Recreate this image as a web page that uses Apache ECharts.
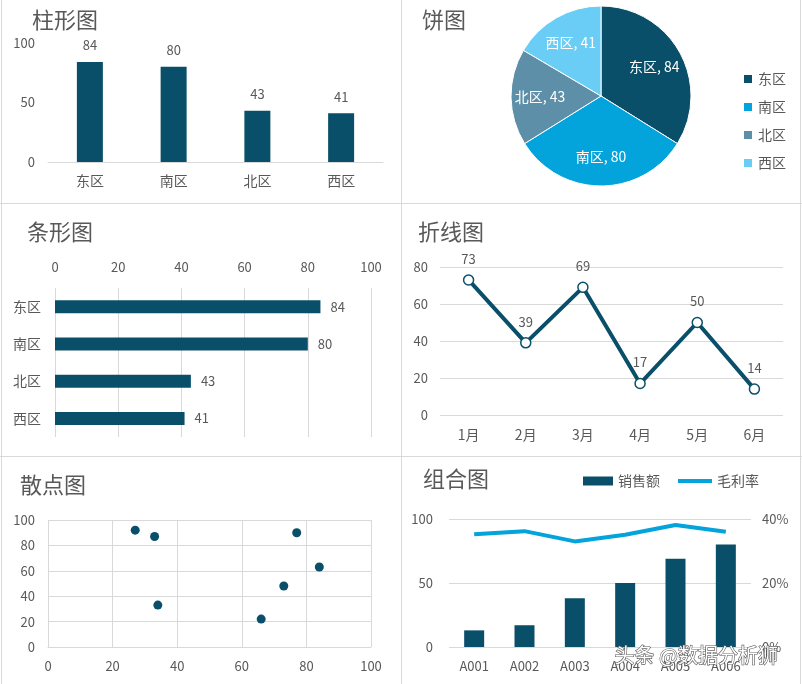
<!DOCTYPE html>
<html>
<head>
<meta charset="utf-8">
<script src="https://cdn.jsdelivr.net/npm/echarts@6/dist/echarts.min.js"></script>
<style>
html,body{margin:0;padding:0;background:#fff;}
#c{width:802px;height:684px;}
</style>
</head>
<body>
<div id="c"></div>
<script>
// ---- data ----
const regions = ['东区', '南区', '北区', '西区'];
const regionValues = [84, 80, 43, 41];
const months = ['1月', '2月', '3月', '4月', '5月', '6月'];
const monthValues = [73, 39, 69, 17, 50, 14];
const scatterX = [27, 33, 34, 66, 73, 77, 84];
const scatterY = [92, 87, 33, 22, 48, 90, 63];
const products = ['A001', 'A002', 'A003', 'A004', 'A005', 'A006'];
const salesValues = [13, 17, 38, 50, 69, 80];
const marginValues = [0.352, 0.362, 0.33, 0.351, 0.381, 0.36];
const titles = ['柱形图', '饼图', '条形图', '折线图', '散点图', '组合图'];

// ---- styles ----
const DARK = '#0a4f69';
const PIE_COLORS = ['#0a4f69', '#03a3dc', '#5e8fa9', '#6acdf5'];
const LIGHT = '#03a3dc';
const TXT = '#595959';
const GRID = '#d9d9d9';
const FONT = '"Noto Sans CJK SC", "Noto Sans", sans-serif';

const chart = echarts.init(document.getElementById('c'), null, {renderer: 'canvas'});

const numLabel = {color: TXT, fontSize: 13, fontFamily: FONT};
const catLabel = {color: TXT, fontSize: 14, fontFamily: FONT};
const split = {show: true, lineStyle: {color: GRID, width: 1}};
const noSplit = {show: false};
const noTick = {show: false};
const noLine = {show: false};
const gLine = {show: true, lineStyle: {color: GRID, width: 1}};

const titlePos = [[32, 9], [422, 9], [27, 221], [418, 221], [20, 474], [423, 468]];

const pieData = regions.map((r, i) => ({name: r, value: regionValues[i]}));

const option = {
  animation: false,
  backgroundColor: '#fff',
  textStyle: {fontFamily: FONT},
  title: titles.map((t, i) => ({
    text: t, left: titlePos[i][0], top: titlePos[i][1], padding: 0,
    textStyle: {color: TXT, fontSize: 22, fontWeight: 'normal', fontFamily: FONT}
  })),
  color: PIE_COLORS,
  legend: [
    {
      data: regions, orient: 'vertical', left: 742, top: 72, itemGap: 14,
      itemWidth: 10, itemHeight: 10, icon: 'rect', padding: 0,
      textStyle: {color: TXT, fontSize: 14, fontFamily: FONT}
    },
    {
      data: [{name: '销售额', icon: 'rect'}], left: 583, top: 474, padding: 0,
      itemWidth: 30, itemHeight: 9, itemGap: 4,
      textStyle: {color: TXT, fontSize: 14, fontFamily: FONT}
    },
    {
      data: [{name: '毛利率', icon: 'rect'}], left: 678, top: 474, padding: 0,
      itemWidth: 34, itemHeight: 4,
      textStyle: {color: TXT, fontSize: 14, fontFamily: FONT}
    }
  ],
  grid: [
    {left: 48, top: 43, width: 335, height: 119, outerBoundsMode: 'none', containLabel: false},
    {left: 55, top: 288, width: 316, height: 149, outerBoundsMode: 'none', containLabel: false},
    {left: 440, top: 267, width: 343, height: 148, outerBoundsMode: 'none', containLabel: false},
    {left: 48, top: 520, width: 323, height: 127, outerBoundsMode: 'none', containLabel: false},
    {left: 449, top: 519, width: 302, height: 128, outerBoundsMode: 'none', containLabel: false}
  ],
  xAxis: [
    {gridIndex: 0, type: 'category', data: regions, axisTick: noTick, axisLine: gLine,
     axisLabel: Object.assign({margin: 12}, catLabel), splitLine: noSplit},
    {gridIndex: 1, type: 'value', position: 'top', min: 0, max: 100, interval: 20,
     axisTick: noTick, axisLine: noLine, splitLine: split,
     axisLabel: Object.assign({margin: 14}, numLabel)},
    {gridIndex: 2, type: 'category', data: months, axisTick: noTick, axisLine: noLine,
     axisLabel: Object.assign({margin: 13}, catLabel), splitLine: noSplit},
    {gridIndex: 3, type: 'value', min: 0, max: 100, interval: 20, axisTick: noTick,
     axisLine: gLine, splitLine: split, axisLabel: Object.assign({margin: 13}, numLabel)},
    {gridIndex: 4, type: 'category', data: products, axisTick: noTick, axisLine: noLine,
     axisLabel: Object.assign({margin: 13}, numLabel), splitLine: noSplit}
  ],
  yAxis: [
    {gridIndex: 0, type: 'value', min: 0, max: 100, interval: 50, axisTick: noTick,
     axisLine: noLine, splitLine: noSplit, axisLabel: Object.assign({margin: 13}, numLabel)},
    {gridIndex: 1, type: 'category', data: regions, inverse: true, axisTick: noTick,
     axisLine: noLine, splitLine: noSplit, axisLabel: Object.assign({margin: 14}, catLabel)},
    {gridIndex: 2, type: 'value', min: 0, max: 80, interval: 20, axisTick: noTick,
     axisLine: noLine, splitLine: split, axisLabel: Object.assign({margin: 12}, numLabel)},
    {gridIndex: 3, type: 'value', min: 0, max: 100, interval: 20, axisTick: noTick,
     axisLine: noLine, splitLine: split, axisLabel: Object.assign({margin: 13}, numLabel)},
    {gridIndex: 4, type: 'value', min: 0, max: 100, interval: 50, axisTick: noTick,
     axisLine: noLine, splitLine: split, axisLabel: Object.assign({margin: 16}, numLabel)},
    {gridIndex: 4, type: 'value', min: 0, max: 0.4, interval: 0.2, position: 'right',
     axisTick: noTick, axisLine: noLine, splitLine: noSplit,
     axisLabel: Object.assign({margin: 11, formatter: v => Math.round(v * 100) + '%'}, numLabel)}
  ],
  series: [
    {
      type: 'bar', xAxisIndex: 0, yAxisIndex: 0, data: regionValues, barWidth: 26,
      itemStyle: {color: DARK},
      label: Object.assign({show: true, position: 'top', distance: 10}, numLabel)
    },
    {
      type: 'pie', name: 'pie', center: [601, 96], radius: 90, startAngle: 90,
      data: pieData, silent: true,
      itemStyle: {borderColor: '#fff', borderWidth: 1},
      label: {show: false}, labelLine: {show: false}
    },
    {
      type: 'pie', name: 'pieLabels', center: [601, 96], radius: 116, startAngle: 90,
      data: pieData, silent: true, legendHoverLink: false,
      itemStyle: {color: 'rgba(0,0,0,0)'},
      label: {show: true, position: 'inside', formatter: '{b}, {c}', color: '#fff',
              fontSize: 14, fontFamily: FONT},
      labelLine: {show: false}
    },
    {
      type: 'bar', xAxisIndex: 1, yAxisIndex: 1, data: regionValues, barWidth: 13,
      itemStyle: {color: DARK},
      label: Object.assign({show: true, position: 'right', distance: 10}, numLabel)
    },
    {
      type: 'line', xAxisIndex: 2, yAxisIndex: 2, data: monthValues,
      lineStyle: {color: DARK, width: 4}, symbol: 'circle', symbolSize: 10,
      itemStyle: {color: '#fff', borderColor: DARK, borderWidth: 1.5},
      label: Object.assign({show: true, position: 'top', distance: 9}, numLabel)
    },
    {
      type: 'scatter', xAxisIndex: 3, yAxisIndex: 3,
      data: scatterX.map((x, i) => [x, scatterY[i]]),
      symbolSize: 9, itemStyle: {color: DARK, opacity: 1}
    },
    {
      type: 'bar', name: '销售额', xAxisIndex: 4, yAxisIndex: 4, data: salesValues,
      barWidth: 20, itemStyle: {color: DARK}
    },
    {
      type: 'line', name: '毛利率', xAxisIndex: 4, yAxisIndex: 5, data: marginValues,
      showSymbol: false, symbol: 'none', lineStyle: {color: LIGHT, width: 4}, itemStyle: {color: LIGHT}
    }
  ],
  graphic: [
    {type: 'line', shape: {x1: 1.5, y1: 0, x2: 1.5, y2: 684}, style: {stroke: GRID, lineWidth: 1}, silent: true},
    {type: 'line', shape: {x1: 401.5, y1: 0, x2: 401.5, y2: 684}, style: {stroke: GRID, lineWidth: 1}, silent: true},
    {type: 'line', shape: {x1: 800.5, y1: 0, x2: 800.5, y2: 684}, style: {stroke: GRID, lineWidth: 1}, silent: true},
    {type: 'line', shape: {x1: 0, y1: 203.5, x2: 802, y2: 203.5}, style: {stroke: GRID, lineWidth: 1}, silent: true},
    {type: 'line', shape: {x1: 0, y1: 456.5, x2: 802, y2: 456.5}, style: {stroke: GRID, lineWidth: 1}, silent: true},
    {type: 'text', left: 614, top: 645, z: 100, silent: true,
     style: {text: '头条 @数据分析狮', fill: '#fff', font: '20px ' + FONT,
             stroke: '#555', lineWidth: 1.2}}
  ]
};
chart.setOption(option);
</script>
</body>
</html>
